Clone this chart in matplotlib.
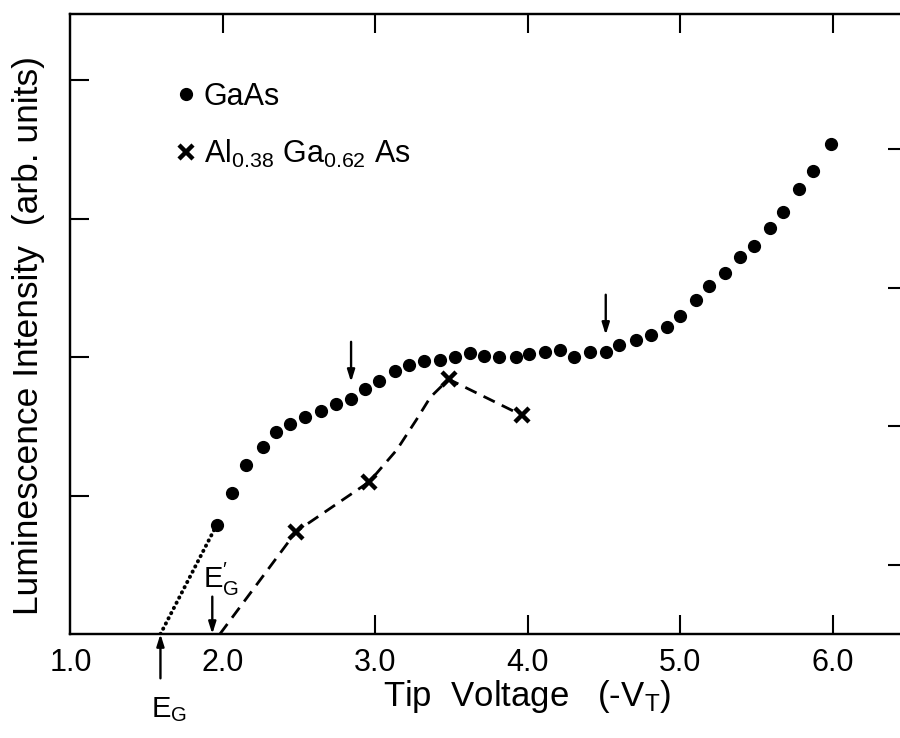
import matplotlib.pyplot as plt
import numpy as np

plt.rcParams['font.family'] = ['Liberation Sans', 'DejaVu Sans']
plt.rcParams['mathtext.fontset'] = 'custom'
plt.rcParams['mathtext.rm'] = 'Liberation Sans'
plt.rcParams['mathtext.it'] = 'Liberation Sans:italic'
plt.rcParams['mathtext.bf'] = 'Liberation Sans:bold'

# GaAs luminescence vs tip voltage (arb. units)
gaas_v = [1.96, 2.06, 2.15, 2.26, 2.35, 2.44, 2.54, 2.64, 2.74, 2.84,
          2.93, 3.02, 3.13, 3.22, 3.32, 3.42, 3.52, 3.62, 3.71, 3.81,
          3.92, 4.01, 4.11, 4.21, 4.30, 4.41, 4.51, 4.60, 4.71, 4.81,
          4.91, 5.00, 5.10, 5.19, 5.29, 5.39, 5.48, 5.59, 5.67, 5.78,
          5.87, 5.99]
gaas_lum = [0.79, 1.02, 1.22, 1.35, 1.46, 1.52, 1.57, 1.61, 1.66, 1.70,
            1.77, 1.83, 1.90, 1.94, 1.97, 1.98, 2.00, 2.03, 2.01, 2.00,
            2.00, 2.02, 2.04, 2.05, 2.00, 2.04, 2.04, 2.09, 2.12, 2.16,
            2.22, 2.30, 2.41, 2.51, 2.61, 2.72, 2.80, 2.93, 3.05, 3.21,
            3.34, 3.54]

# Al0.38Ga0.62As
algaas_v = [2.48, 2.96, 3.48, 3.96]
algaas_lum = [0.74, 1.10, 1.84, 1.58]

# dashed guide drawn through the alloy data
guide_v = [1.98, 2.48, 2.96, 3.14, 3.27, 3.36, 3.48, 3.96]
guide_lum = [0.0, 0.74, 1.10, 1.33, 1.55, 1.71, 1.84, 1.58]

eg = 1.59        # GaAs onset
eg_prime = 1.93  # alloy onset
kinks = [9, 26]  # GaAs points marked with arrows

fig = plt.figure(figsize=(9, 7.38), dpi=100)
ax = fig.add_axes([0.0783, 0.1409, 0.9294, 0.8401])

# extrapolation of GaAs down to the onset
ax.plot([eg, gaas_v[0]], [0, gaas_lum[0]], color='black', lw=2.8,
        ls=(0, (0.1, 1.4)), dash_capstyle='round')
ax.plot(guide_v, guide_lum, color='black', lw=2.0, ls=(0, (4.5, 2.8)))
ax.plot(gaas_v, gaas_lum, 'o', color='black', ms=8.5, label='GaAs')
ax.plot(algaas_v, algaas_lum, 'x', color='black', ms=10, mew=3.2,
        label=r'Al$_{0.38}$ Ga$_{0.62}$ As')

arrow = dict(arrowstyle='-|>,head_length=0.7,head_width=0.22', color='black',
             lw=1.7, shrinkA=0, shrinkB=0)
for i in kinks:
    ax.annotate('', xy=(gaas_v[i], gaas_lum[i] + 0.12),
                xytext=(gaas_v[i], gaas_lum[i] + 0.41), arrowprops=arrow)
ax.annotate('', xy=(eg, 0.0), xytext=(eg, -0.32), arrowprops=arrow,
            annotation_clip=False)
ax.annotate('', xy=(eg_prime, 0.0), xytext=(eg_prime, 0.27), arrowprops=arrow)
ax.text(eg - 0.06, -0.60, r'E$_\mathrm{G}$', fontsize=21, ha='left',
        va='baseline')
ax.text(eg_prime - 0.06, 0.33, r'E$^{\prime}_\mathrm{G}$', fontsize=21,
        ha='left', va='baseline')

ax.set_xlim(1.0, 6.485)
ax.set_ylim(0, 4.477)

ax.set_xticks([1, 2, 3, 4, 5, 6])
ax.set_xticklabels(['1.0', '2.0', '3.0', '4.0', '5.0', '6.0'])
ax.tick_params(axis='x', direction='in', length=13.7, width=1.5, top=True,
               labelsize=22, pad=10)
xt = ax.xaxis.get_major_ticks()
xt[0].tick1line.set_visible(False)
xt[0].tick2line.set_visible(False)
xt[1].tick1line.set_visible(False)

ax.set_yticks([1, 2, 3, 4])
ax.tick_params(axis='y', direction='in', length=13.7, width=1.5,
               labelleft=False)
axr = ax.twinx()
axr.set_ylim(ax.get_ylim())
axr.set_yticks([0.5, 1.5, 2.5, 3.5])
axr.tick_params(axis='y', direction='in', length=13.7, width=1.5,
                labelright=False)
for a in (ax, axr):
    for s in a.spines.values():
        s.set_linewidth(1.6)

ax.set_xlabel(r'Tip  Voltage   (-V$_\mathrm{T}$)', fontsize=25)
ax.xaxis.set_label_coords(0.546, -0.071)
ax.set_ylabel('Luminescence Intensity  (arb. units)', fontsize=25.5)
ax.yaxis.set_label_coords(-0.03, 0.482)

ax.legend(loc='upper left', bbox_to_anchor=(0.112, 0.91), frameon=False,
          fontsize=22, handlelength=0.6, handletextpad=0.3, labelspacing=0.85,
          borderaxespad=0)

fig.savefig('out.png', dpi=100)
